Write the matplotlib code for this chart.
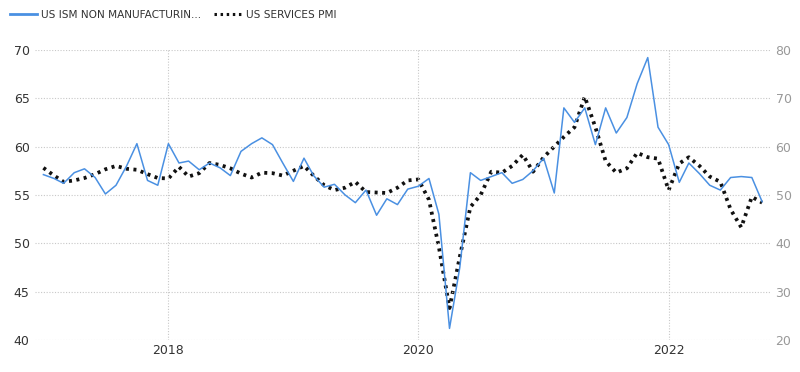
import numpy as np
import pandas as pd
import matplotlib
matplotlib.use("Agg")
import matplotlib.pyplot as plt
import matplotlib.dates as mdates
from matplotlib.lines import Line2D

months = pd.date_range("2017-01-01", "2022-10-01", freq="MS")

# US ISM non manufacturing (left axis)
ism = [57.1, 56.7, 56.2, 57.3, 57.7, 56.8, 55.1, 56.0, 58.0, 60.3, 56.5, 56.0,
       60.3, 58.3, 58.5, 57.6, 58.3, 57.8, 57.0, 59.5, 60.3, 60.9, 60.2, 58.3,
       56.4, 58.8, 57.0, 55.8, 56.1, 55.0, 54.2, 55.5, 52.9, 54.6, 54.0, 55.6,
       55.9, 56.7, 53.0, 41.2, 47.5, 57.3, 56.5, 56.9, 57.3, 56.2, 56.6, 57.5,
       58.8, 55.2, 64.0, 62.5, 64.0, 60.2, 64.0, 61.4, 63.0, 66.5, 69.2, 62.0,
       60.2, 56.3, 58.3, 57.2, 56.0, 55.5, 56.8, 56.9, 56.8, 54.3]

# US services PMI (right axis)
services = [55.6, 54.0, 52.7, 53.0, 53.5, 54.3, 55.3, 56.0, 55.4, 55.2, 54.3, 53.5,
            53.4, 55.8, 53.8, 54.5, 56.6, 56.2, 55.5, 54.4, 53.6, 54.6, 54.5, 54.0,
            55.0, 56.0, 54.0, 52.0, 51.0, 51.5, 52.7, 50.6, 50.5, 50.4, 51.5, 53.0,
            53.2, 49.0, 39.2, 26.6, 37.2, 47.5, 50.0, 54.8, 54.6, 56.0, 58.3, 54.8,
            57.8, 60.0, 62.0, 64.0, 70.3, 64.0, 57.0, 54.6, 55.5, 58.7, 57.8, 57.5,
            51.0, 56.5, 57.8, 56.0, 53.8, 52.7, 47.0, 43.3, 49.6, 48.4]

left_ticks = [40, 45, 50, 55, 60, 65, 70]
right_ticks = [20, 30, 40, 50, 60, 70, 80]
year_ticks = ["2018", "2020", "2022"]

fig = plt.figure(figsize=(8, 3.72), dpi=100)
ax = fig.add_axes([0.044, 0.086, 0.9185, 0.78])
ax2 = ax.twinx()

ax.plot(months, ism, color="#4a90e2", lw=1.1, zorder=3)
ax2.plot(months, services, color="#111111", lw=2.7, linestyle=(0, (0.8, 1.2)),
         dash_capstyle="butt", zorder=3)

ax.set_ylim(40, 70)
ax2.set_ylim(20, 80)
ax.set_yticks(left_ticks)
ax2.set_yticks(right_ticks)
ax.set_xlim(pd.Timestamp("2016-12-08"), pd.Timestamp("2022-10-24"))
ax.set_xticks([pd.Timestamp(y + "-01-01") for y in year_ticks])
ax.xaxis.set_major_formatter(mdates.DateFormatter("%Y"))

ax.grid(True, color="#c8c8c8", linestyle=(0, (1, 1.5)), lw=0.8)
for a in (ax, ax2):
    for s in a.spines.values():
        s.set_visible(False)
ax.tick_params(axis="both", length=0, labelsize=9, colors="#333333", pad=3)
ax.tick_params(axis="y", pad=4)
ax2.tick_params(axis="y", length=0, labelsize=9, colors="#999999", pad=4)
ax.set_zorder(ax2.get_zorder() + 1)
ax.patch.set_visible(False)

handles = [Line2D([], [], color="#4a90e2", lw=2),
           Line2D([], [], color="#111111", lw=2.2, linestyle=(0, (0.8, 1.2)))]
fig.legend(handles, ["US ISM NON MANUFACTURIN...", "US SERVICES PMI"],
           loc="upper left", bbox_to_anchor=(0.0, 1.0), ncol=2, frameon=False,
           fontsize=7.6, handlelength=2.6, handletextpad=0.4, columnspacing=1.2,
           labelcolor="#333333")

fig.savefig("out.png", dpi=100)
